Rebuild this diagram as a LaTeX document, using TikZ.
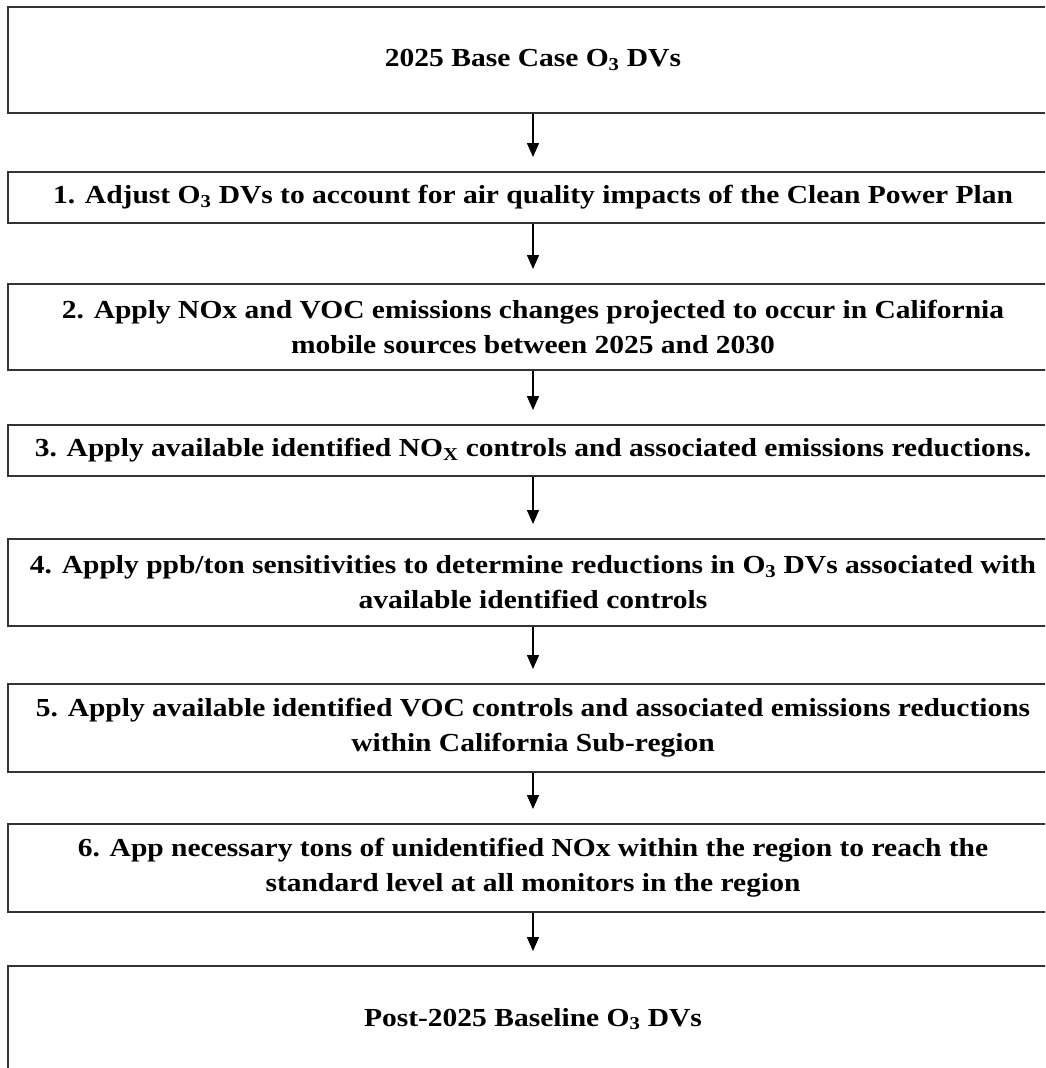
\documentclass[tikz,border=0pt]{standalone}
\usepackage{fontspec}
\setmainfont{Liberation Serif}[FakeStretch=1.135]
\usetikzlibrary{arrows.meta}
\begin{document}
\begin{tikzpicture}[x=1pt,y=-1pt,
  box/.style={draw=black!80, line width=2pt, minimum width=1050pt, inner sep=0pt,
    font=\fontsize{26}{35}\selectfont\bfseries, align=center},
  arr/.style={draw=black, line width=1.5pt, -{Triangle[length=14pt,width=12pt]}, shorten >=14pt}]
\useasboundingbox (0,0) rectangle (1045,1068);
\clip (0,0) rectangle (1045,1068);
\fill[white] (0,0) rectangle (1045,1068);
\node[box, minimum height=106pt] (b0) at (533,60) {2025 Base Case O\textsubscript{3} DVs};
\node[box, minimum height=51pt] (b1) at (533,197.5) {1. Adjust O\textsubscript{3} DVs to account for air quality impacts of the Clean Power Plan};
\node[box, minimum height=86pt] (b2) at (533,327) {2. Apply NOx and VOC emissions changes projected to occur in California\\ mobile sources between 2025 and 2030};
\node[box, minimum height=51pt] (b3) at (533,450.5) {3. Apply available identified NO\textsubscript{X} controls and associated emissions reductions.};
\node[box, minimum height=87pt] (b4) at (533,582.5) {4. Apply ppb/ton sensitivities to determine reductions in O\textsubscript{3} DVs associated with\\ available identified controls};
\node[box, minimum height=88pt] (b5) at (533,728) {5. Apply available identified VOC controls and associated emissions reductions\\ within California Sub-region};
\node[box, minimum height=88pt] (b6) at (533,868) {6. App necessary tons of unidentified NOx within the region to reach the\\ standard level at all monitors in the region};
\node[box, minimum height=106pt] (b7) at (533,1019) {Post-2025 Baseline O\textsubscript{3} DVs};
\draw[arr] (b0.south) -- (b1.north);
\draw[arr] (b1.south) -- (b2.north);
\draw[arr] (b2.south) -- (b3.north);
\draw[arr] (b3.south) -- (b4.north);
\draw[arr] (b4.south) -- (b5.north);
\draw[arr] (b5.south) -- (b6.north);
\draw[arr] (b6.south) -- (b7.north);
\end{tikzpicture}
\end{document}
